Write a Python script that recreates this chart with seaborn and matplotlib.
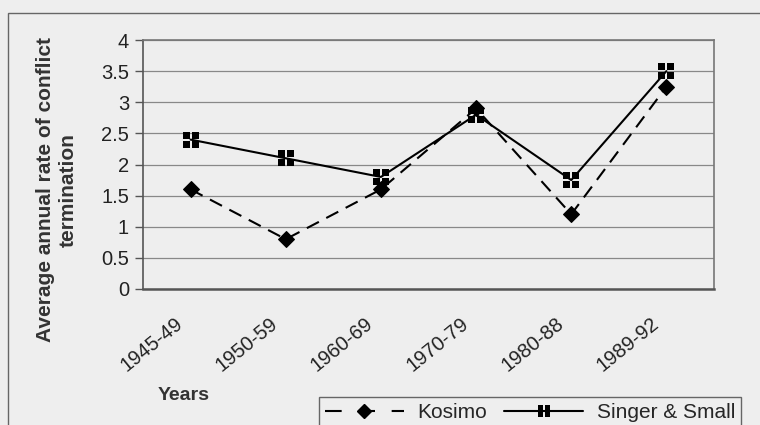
import matplotlib
matplotlib.use("Agg")
import matplotlib.pyplot as plt
from matplotlib.path import Path
from matplotlib.lines import Line2D
from matplotlib.patches import Rectangle
from matplotlib.transforms import ScaledTranslation
import seaborn as sns
import pandas as pd
import numpy as np

periods = ["1945-49", "1950-59", "1960-69", "1970-79", "1980-88", "1989-92"]
kosimo = [1.6, 0.8, 1.6, 2.9, 1.2, 3.25]
singer_small = [2.4, 2.1, 1.8, 2.8, 1.75, 3.5]
y_ticks = [0, 0.5, 1, 1.5, 2, 2.5, 3, 3.5, 4]

sns.set_theme(style="white")
plt.rcParams["font.family"] = ["Liberation Sans", "DejaVu Sans"]

BG = "#eeeeee"
TXT = "#222222"
fig = plt.figure(figsize=(7.6, 4.25), dpi=100, facecolor=BG)
ax = fig.add_axes([143 / 760, 1 - 289 / 425, (714 - 143) / 760, (289 - 40) / 425])
ax.set_facecolor(BG)

# four-square marker used for the Singer & Small series
def quad_marker():
    verts, codes = [], []
    s, g = 0.44, 0.06
    for cx, cy in [(-1, -1), (1, -1), (-1, 1), (1, 1)]:
        x0 = g if cx > 0 else -g - s
        y0 = g if cy > 0 else -g - s
        sq = [(x0, y0), (x0 + s, y0), (x0 + s, y0 + s), (x0, y0 + s), (x0, y0)]
        verts += sq
        codes += [Path.MOVETO, Path.LINETO, Path.LINETO, Path.LINETO, Path.CLOSEPOLY]
    return Path(verts, codes)

QUAD = quad_marker()
DASH = (6.5, 4)

df = pd.DataFrame({"Period": periods, "Kosimo": kosimo, "Singer & Small": singer_small})

sns.lineplot(data=df, x="Period", y="Kosimo", ax=ax, color="black", lw=1.5,
             marker="D", markersize=8.5, markeredgecolor="black",
             sort=False, zorder=4)
ax.lines[-1].set_dashes(DASH)
sns.lineplot(data=df, x="Period", y="Singer & Small", ax=ax, color="black", lw=1.5,
             marker=QUAD, markersize=11, markeredgewidth=0, sort=False, zorder=5)

ax.set_xlim(-0.5, len(periods) - 0.5)
ax.set_ylim(0, 4)
ax.set_yticks(y_ticks)
ax.set_yticklabels([f"{v:g}" for v in y_ticks], fontsize=14.5, color=TXT)
ax.yaxis.grid(True, color="#888888", lw=0.9)
ax.set_axisbelow(True)

# ticks at category boundaries, labels at category centres
ax.set_xticks(np.arange(-0.5, len(periods), 1.0))
ax.set_xticklabels([])
ax.set_xticks(np.arange(len(periods)), minor=True)
ax.set_xticklabels(periods, minor=True, rotation=39, ha="right", va="center",
                   rotation_mode="anchor", fontsize=14.5, color=TXT)
ax.tick_params(axis="x", which="major", length=5, color="#555555", width=1)
ax.tick_params(axis="x", which="minor", length=0, pad=23)
ax.tick_params(axis="y", length=6, color="#555555", width=1, left=True, pad=4)
# nudge the slanted period labels left so their ends sit under the points
shift = ScaledTranslation(-0.10, 0, fig.dpi_scale_trans)
for lbl in ax.get_xticklabels(minor=True):
    lbl.set_transform(lbl.get_transform() + shift)

for side in ["left", "bottom", "right", "top"]:
    ax.spines[side].set_visible(True)
    ax.spines[side].set_color("#777777")
    ax.spines[side].set_linewidth(1.2)
ax.spines["left"].set_color("#555555")
ax.spines["bottom"].set_color("#555555")
ax.spines["bottom"].set_linewidth(1.8)

ax.set_ylabel("")
ax.set_xlabel("")
fig.text(57 / 760, 1 - 190 / 425, "Average annual rate of conflict\ntermination",
         fontsize=15, fontweight="bold", color="#333333", rotation=90,
         ha="center", va="center", multialignment="center", linespacing=1.2)
fig.text(184 / 760, 1 - 395 / 425, "Years", fontsize=14, fontweight="bold",
         color="#333333", ha="center", va="center")

# outer chart-area border
fig.patches.append(Rectangle((8 / 760, -0.1), 1.2, 1 - 13 / 425 + 0.1,
                             transform=fig.transFigure, fill=False,
                             edgecolor="#666666", lw=1.0))

handles = [
    Line2D([], [], color="black", lw=1.5, dashes=(8, 8), marker="D",
           markersize=7.5, markeredgecolor="black"),
    Line2D([], [], color="black", lw=1.5, marker=QUAD, markersize=9,
           markeredgewidth=0),
]
leg = fig.legend(handles, ["Kosimo", "Singer & Small"], ncol=2,
                 loc="upper left", bbox_to_anchor=(319 / 760, 1 - 397 / 425),
                 borderaxespad=0, frameon=True, fancybox=False, fontsize=15,
                 handlelength=3.8, columnspacing=0.8, handletextpad=0.65,
                 borderpad=0.28, edgecolor="#444444", facecolor=BG)
leg.get_frame().set_linewidth(1.0)

fig.savefig("out.png", dpi=100, facecolor=BG)
